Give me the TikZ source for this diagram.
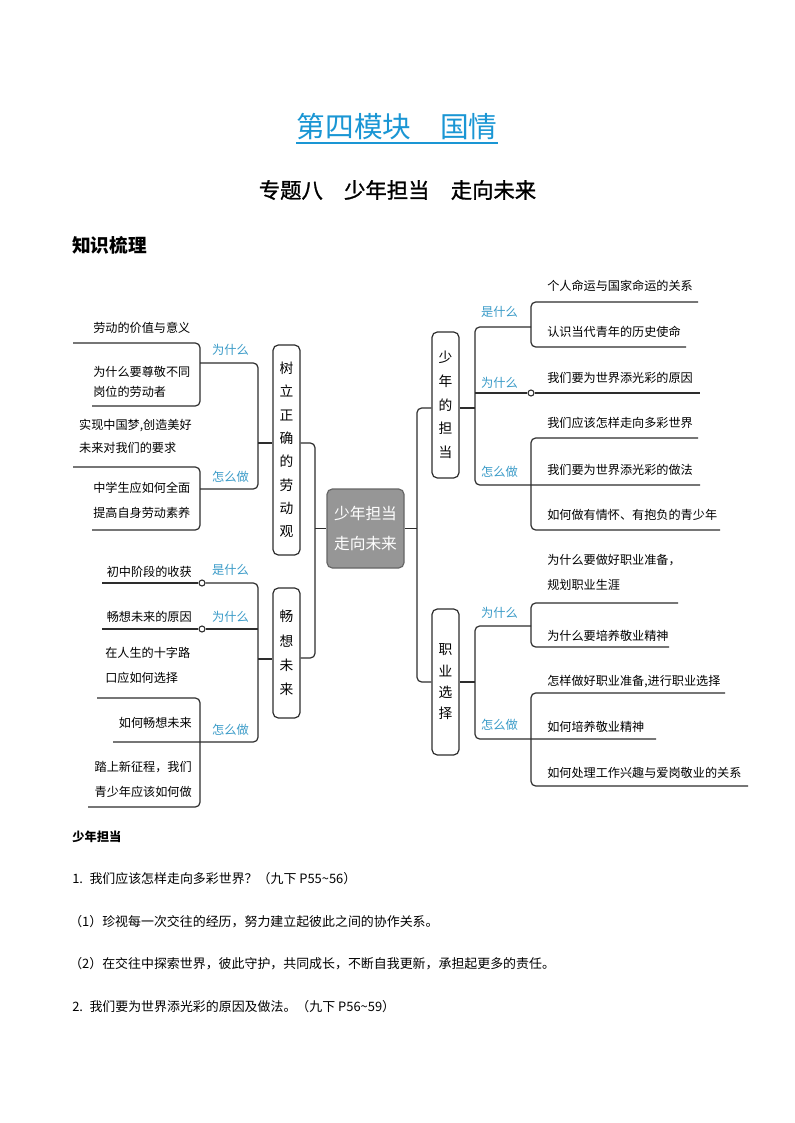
\documentclass[tikz,border=0pt]{standalone}
\usepackage{fontspec}
\setmainfont{Noto Sans CJK SC}
\newfontfamily\subfont{Noto Sans CJK SC}[FakeBold=1.2]
\usetikzlibrary{calc}
\definecolor{lblue}{RGB}{58,155,200}
\definecolor{tblue}{RGB}{26,150,212}
\definecolor{ln}{RGB}{45,45,45}
\definecolor{cgray}{RGB}{150,150,150}
\begin{document}
\begin{tikzpicture}[x=0.75pt,y=-0.75pt,
  conn/.style={draw=ln, line width=0.9pt, rounded corners=3.5pt},
  txt/.style={inner sep=0pt, font=\fontsize{9.1}{11}\selectfont},
  txtw/.style={inner sep=0pt, align=left, font=\fontsize{9.1}{#1}\selectfont},
  lab/.style={inner sep=0pt, text=lblue, font=\fontsize{9.2}{11}\selectfont},
  vbox/.style={draw=ln, line width=0.9pt, rounded corners=4pt, fill=white, minimum width=20.25pt, inner sep=0pt, align=center},
  dot/.style={circle, draw=ln, fill=white, line width=0.8pt, inner sep=0pt, minimum size=4.5pt},
  body/.style={anchor=west, inner sep=0pt, font=\fontsize{9.7}{11}\selectfont}
]
\useasboundingbox (0,0) rectangle (794,1123);
\fill[white] (0,0) rectangle (794,1123);

% titles
\node[inner sep=0pt, text=tblue, font=\fontsize{21.5}{24}\selectfont] (title) at (397,127) {第四模块　国情};
\draw[tblue, line width=1.5pt] (title.west |- 0,143) -- (title.east |- 0,143);
\node[inner sep=0pt, font=\subfont\fontsize{16}{18}\selectfont] (sub) at (397.5,190) {专题八　少年担当　走向未来};
\node[inner sep=0pt, anchor=west, font=\fontsize{14}{16}\bfseries] (zs) at (72,245) {知识梳理};

% boxes
\node[vbox, minimum height=157.5pt, font=\fontsize{10.3}{17.5}\selectfont] (lao) at (286.5,450) {树\\立\\正\\确\\的\\劳\\动\\观};
\node[vbox, minimum height=97.5pt, font=\fontsize{10.3}{18.3}\selectfont] (chang) at (286.5,653) {畅\\想\\未\\来};
\node[draw=black!60, line width=0.9pt, fill=cgray, rounded corners=4pt, minimum width=57.75pt, minimum height=59.25pt, inner sep=0pt, text=white, align=center, font=\fontsize{11.8}{22.5}\selectfont] (cen) at (365.5,528.5) {少年担当\\走向未来};
\node[vbox, minimum height=109.5pt, font=\fontsize{10.3}{17.8}\selectfont] (dan) at (445.5,405) {少\\年\\的\\担\\当};
\node[vbox, minimum height=109.5pt, font=\fontsize{10.3}{16}\selectfont] (zhi) at (445.5,682) {职\\业\\选\\择};

% trunk connectors
\draw[conn] (lao.east |- 0,443) -- (315,443) -- (315,658) -- (chang.east |- 0,658);
\draw[conn] (315,528.5) -- (cen.west);
\draw[conn] (cen.east) -- (417,528.5);
\draw[conn] (dan.west |- 0,408) -- (417,408) -- (417,682) -- (zhi.west |- 0,682);

% ===== left top: 树立正确的劳动观 =====
\draw[conn] (258,443) -- (lao.west |- 0,443);
\draw[conn] (200,363) -- (258,363) -- (258,489) -- (200,489);
\draw[conn] (73,343) -- (200,343) -- (200,406) -- (92,406);
\draw[conn] (73,467) -- (200,467) -- (200,530) -- (92,530);
\node[lab] (l1) at (230.5,350) {为什么};
\node[lab] (l2) at (230.5,477) {怎么做};
\node[txt, anchor=west] (a1) at (93,328) {劳动的价值与意义};
\node[txtw=14.5pt, anchor=west] (a2) at (93,382) {为什么要尊敬不同\\岗位的劳动者};
\node[txtw=17.5pt, anchor=east] (a3) at (192,436.5) {实现中国梦,创造美好\\未来对我们的要求};
\node[txtw=18.75pt, anchor=west] (a4) at (93,500.5) {中学生应如何全面\\提高自身劳动素养};

% ===== left bottom: 畅想未来 =====
\draw[conn] (258,659) -- (chang.west |- 0,659);
\node[dot] (c1) at (202,583) {};
\node[dot] (c2) at (202,629) {};
\draw[conn] (102,583) -- (c1.west);
\draw[conn] (c1.east) -- (258,583) -- (258,742) -- (113,742);
\draw[conn] (102,629) -- (c2.west);
\draw[conn] (c2.east) -- (258,629);
\draw[conn] (97,698) -- (200,698) -- (200,807) -- (88,807);
\node[lab] (l3) at (230.5,570) {是什么};
\node[lab] (l4) at (230.5,617) {为什么};
\node[lab] (l5) at (230.5,730) {怎么做};
\node[txt, anchor=east] (b1) at (192,572) {初中阶段的收获};
\node[txt, anchor=east] (b2) at (192,617) {畅想未来的原因};
\node[txtw=18.75pt, anchor=west] (b3) at (105,665.5) {在人生的十字路\\口应如何选择};
\node[txt, anchor=east] (b4) at (192,723) {如何畅想未来};
\node[txtw=18.75pt, anchor=east] (b5) at (192,779.5) {踏上新征程，我们\\青少年应该如何做};

% ===== right top: 少年的担当 =====
\draw[conn] (dan.east |- 0,408) -- (475,408);
\draw[conn] (531,327) -- (475,327) -- (475,485) -- (700,485);
\node[dot] (c3) at (531,393) {};
\draw[conn] (475,393) -- (c3.west);
\draw[conn] (c3.east) -- (700,393);
\draw[conn] (698,302) -- (531,302) -- (531,347) -- (686,347);
\draw[conn] (698,438) -- (531,438) -- (531,530) -- (720,530);
\node[lab] (l6) at (499.5,312) {是什么};
\node[lab] (l7) at (499.5,383) {为什么};
\node[lab] (l8) at (499.5,472) {怎么做};
\node[txt, anchor=west] (r1) at (547,286) {个人命运与国家命运的关系};
\node[txt, anchor=west] (r2) at (547,332) {认识当代青年的历史使命};
\node[txt, anchor=west] (r3) at (547,378) {我们要为世界添光彩的原因};
\node[txt, anchor=west] (r4) at (547,423) {我们应该怎样走向多彩世界};
\node[txt, anchor=west] (r5) at (547,470) {我们要为世界添光彩的做法};
\node[txt, anchor=west] (r6) at (547,515) {如何做有情怀、有抱负的青少年};

% ===== right bottom: 职业选择 =====
\draw[conn] (zhi.east |- 0,682) -- (475,682);
\draw[conn] (531,626) -- (475,626) -- (475,739) -- (656,739);
\draw[conn] (678,603) -- (531,603) -- (531,647) -- (669,647);
\draw[conn] (725,693) -- (531,693) -- (531,786) -- (748,786);
\node[lab] (l9) at (499.5,613) {为什么};
\node[lab] (l10) at (499.5,725) {怎么做};
\node[txtw=18.75pt, anchor=west] (s1) at (547,572.5) {为什么要做好职业准备，\\规划职业生涯};
\node[txt, anchor=west] (s2) at (547,636) {为什么要培养敬业精神};
\node[txt, anchor=west] (s3) at (547,682) {怎样做好职业准备,进行职业选择};
\node[txt, anchor=west] (s4) at (547,727) {如何培养敬业精神};
\node[txt, anchor=west] (s5) at (547,773) {如何处理工作兴趣与爱岗敬业的关系};

% ===== bottom text =====
\node[inner sep=0pt, anchor=west, font=\fontsize{9.2}{11}\bfseries] (h2) at (72,837) {少年担当};
\node[body] (p1) at (72,879) {1.\enspace 我们应该怎样走向多彩世界？（九下 P55\textasciitilde56）};
\node[body] (p2) at (69,922) {（1）珍视每一次交往的经历，努力建立起彼此之间的协作关系。};
\node[body] (p3) at (69,964) {（2）在交往中探索世界，彼此守护，共同成长，不断自我更新，承担起更多的责任。};
\node[body] (p4) at (72,1007) {2.\enspace 我们要为世界添光彩的原因及做法。（九下 P56\textasciitilde59）};
\end{tikzpicture}
\end{document}
